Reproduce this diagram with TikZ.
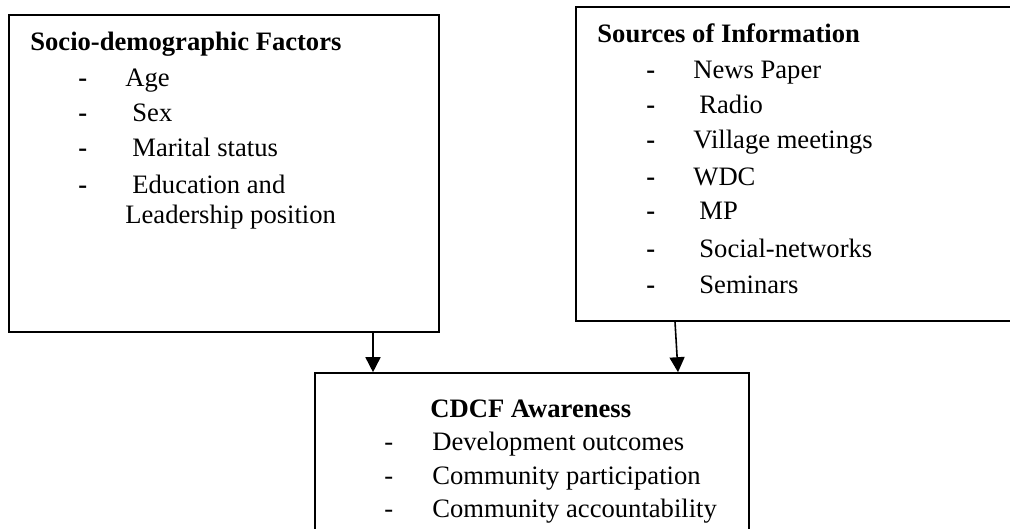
\documentclass[tikz,border=0pt]{standalone}
\usepackage{fontspec}
\setmainfont{Liberation Serif}
\usetikzlibrary{arrows.meta}

\begin{document}
\begin{tikzpicture}[
    x=0.5pt, y=-0.5pt,
    box/.style={rectangle, draw=black, line width=0.8pt, inner sep=0pt},
    item/.style={anchor=base west, inner sep=0pt, font=\fontsize{13.3}{16}\selectfont},
    title/.style={item, font=\fontsize{13.3}{16}\selectfont\bfseries},
    bullet/.style={title},
    arrow/.style={line width=0.8pt, -{Triangle[length=7.5pt,width=7.5pt]}}
]
    \useasboundingbox (0,0) rectangle (1010,529);
    \node[box, minimum width=215pt, minimum height=158.5pt] (socio) at (224,173.5) {};
    \node[box, minimum width=219.5pt, minimum height=157pt] (sources) at (795.5,164) {};
    \node[box, minimum width=217pt, minimum height=86pt] (aware) at (532,459) {};
    \node[title] (sociotitle) at (30,51) {Socio-demographic Factors};
    \foreach \y [count=\i] in {87,122,157,193}
        \node[bullet] (sdash\i) at (78,\y) {-};
    \node[item] (age) at (125,87) {Age};
    \node[item] (sex) at (132,122) {Sex};
    \node[item] (marital) at (132,157) {Marital status};
    \node[item] (educ) at (132,193) {Education and};
    \node[item] (leader) at (125,223) {Leadership position};
    \node[title] (sourcestitle) at (597,43) {Sources of Information};
    \foreach \y [count=\i] in {79,114,149,185,220,257,293}
        \node[bullet] (idash\i) at (646,\y) {-};
    \node[item] (paper) at (693,79) {News Paper};
    \node[item] (radio) at (699,114) {Radio};
    \node[item] (village) at (693,149) {Village meetings};
    \node[item] (wdc) at (693,185) {WDC};
    \node[item] (mp) at (699,220) {MP};
    \node[item] (social) at (699,257) {Social-networks};
    \node[item] (seminar) at (699,293) {Seminars};
    \node[title] (awaretitle) at (430,417) {CDCF Awareness};
    \foreach \y [count=\i] in {450,484,517}
        \node[item] (adash\i) at (384,\y) {-};
    \node[item] (devel) at (432,450) {Development outcomes};
    \node[item] (partic) at (432,484) {Community participation};
    \node[item] (account) at (432,517) {Community accountability};
    \coordinate (lx) at (373,0);
    \coordinate (rxa) at (675,0);
    \coordinate (rxb) at (678,0);
    \draw[arrow] (socio.south -| lx) -- (aware.north -| lx);
    \draw[arrow] (sources.south -| rxa) -- (aware.north -| rxb);
\end{tikzpicture}
\end{document}
